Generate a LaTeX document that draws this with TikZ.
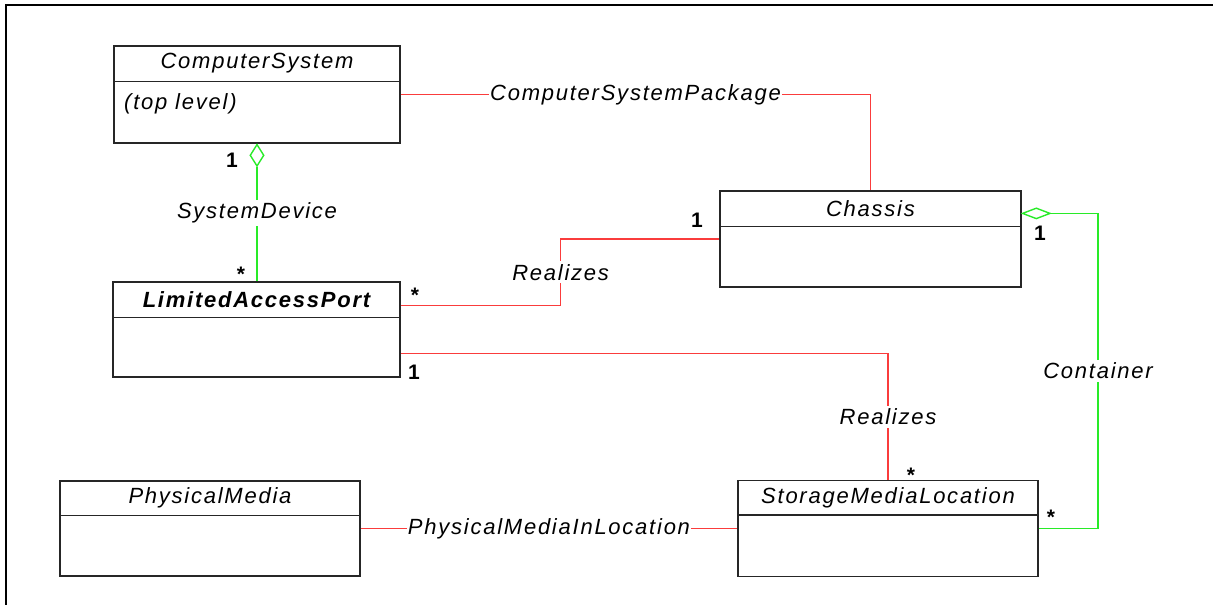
\documentclass[tikz,border=0pt]{standalone}
\usepackage{fontspec}
\newfontfamily\umlfont[LetterSpace=8]{Liberation Sans}
\usetikzlibrary{shapes.geometric}
\definecolor{assocred}{RGB}{250,60,60}
\definecolor{aggrgreen}{RGB}{40,235,40}
\tikzset{
  classbox/.style={draw=black!85, line width=1.2pt, fill=white, inner sep=0pt},
  classline/.style={draw=black!85, line width=1.2pt},
  classname/.style={font=\umlfont\itshape\fontsize{22}{26}\selectfont, inner sep=0pt},
  assoc/.style={draw=assocred, line width=1.4pt},
  aggr/.style={draw=aggrgreen, line width=1.4pt},
  rolename/.style={fill=white, inner xsep=1pt, inner ysep=3pt, font=\umlfont\itshape\fontsize{22}{26}\selectfont},
  mult/.style={font=\umlfont\bfseries\fontsize{21}{24}\selectfont, inner sep=0pt},
  hollow/.style={diamond, draw=aggrgreen, line width=1.4pt, fill=white, inner sep=0pt},
}
\begin{document}
\begin{tikzpicture}[x=1pt,y=-1pt]
    \useasboundingbox (0,0) rectangle (1213,605);
    % frame
    \draw[line width=2.6pt] (6,612) -- (6,5) -- (1220,5);

    % classes
    \node[classbox, minimum width=286pt, minimum height=97pt] (cs) at (257,94.5) {};
    \node[classbox, minimum width=287pt, minimum height=95pt] (lap) at (256.5,329.5) {};
    \node[classbox, minimum width=301pt, minimum height=96pt] (chassis) at (870.5,239) {};
    \node[classbox, minimum width=300pt, minimum height=95pt] (pm) at (210,528.5) {};
    \node[classbox, minimum width=300pt, minimum height=96pt] (sml) at (888,528.5) {};
    \foreach \c/\h in {cs/36,lap/36,chassis/36,pm/35,sml/35}
        \draw[classline] ([yshift=-\h pt]\c.north west) -- ([yshift=-\h pt]\c.north east);

    \node[classname] (cs-name) at ([yshift=-18pt]cs.north) {ComputerSystem};
    \node[classname, anchor=west] (cs-note) at (124,104) {(top level)};
    \node[classname] (lap-name) at ([yshift=-18pt]lap.north) {\bfseries LimitedAccessPort};
    \node[classname] (chassis-name) at ([yshift=-18pt]chassis.north) {Chassis};
    \node[classname] (pm-name) at ([yshift=-17.5pt]pm.north) {PhysicalMedia};
    \node[classname] (sml-name) at ([yshift=-17.5pt]sml.north) {StorageMediaLocation};

    % aggregations
    \node[hollow, minimum width=14pt, minimum height=22pt, anchor=north] (cs-dia) at (cs.south) {};
    \draw[aggr] (cs-dia.south) -- node[rolename, pos=0.4] (sysdev) {SystemDevice} (cs-dia.south |- lap.north);
    \node[hollow, minimum width=28pt, minimum height=11pt, anchor=west] (ch-dia) at ([yshift=-23pt]chassis.north east) {};
    \draw[aggr] (ch-dia.east) -- ++(47,0) |- node[rolename, pos=0.25] (container) {Container} (sml.east);

    % associations
    \draw[assoc] (cs.east) -| node[rolename, pos=0.25] (cspkg) {ComputerSystemPackage} (chassis.north);
    \draw[assoc] ([yshift=-24pt]lap.north east) -- ++(160,0) |- node[rolename, pos=0.25] (real-ch) {Realizes} (chassis.west);
    \draw[assoc] ([yshift=24pt]lap.south east) -| node[rolename, pos=0.75] (real-sml) {Realizes} (sml.north);
    \draw[assoc] (pm.east) -- node[rolename] (pmloc) {PhysicalMediaInLocation} (sml.west);

    % multiplicities
    \node[mult] (m-cs) at (232,160) {1};
    \node[mult] (m-lap-top) at (241,274) {*};
    \node[mult] (m-lap-r1) at (415,295) {*};
    \node[mult] (m-ch-l) at (697,220) {1};
    \node[mult] (m-lap-r2) at (414,372) {1};
    \node[mult] (m-sml-top) at (911,475.5) {*};
    \node[mult] (m-ch-r) at (1040,233) {1};
    \node[mult] (m-sml-r) at (1051,517) {*};
\end{tikzpicture}
\end{document}
